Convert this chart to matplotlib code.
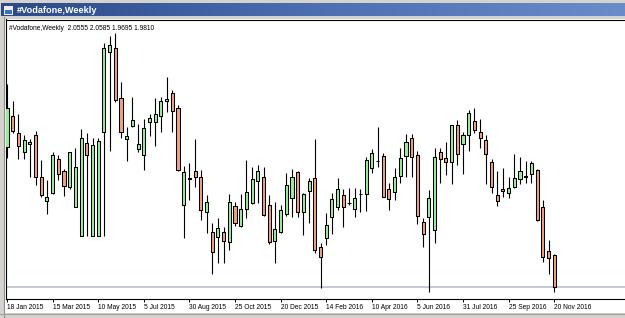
import numpy as np
import matplotlib
matplotlib.use("Agg")
import matplotlib.pyplot as plt
from matplotlib.patches import Rectangle
from matplotlib.collections import LineCollection, PatchCollection
import matplotlib.colors as mcolors

# ---------------- data (weekly candles, from 18 Jan 2015) ----------------
opens = [2.3085, 2.3828, 2.3414, 2.2982, 2.3156, 2.3375, 2.2395, 2.1824, 2.2004, 2.2811,
         2.2529, 2.2160, 2.1690, 2.1001, 2.3194, 2.1001, 2.1001, 2.3438, 2.5337, 2.5412,
         2.4251, 2.3273, 2.3586, 2.3053, 2.2905, 2.3687, 2.3673, 2.3821, 2.4181, 2.4369,
         2.4002, 2.1730, 2.2364, 2.2529, 2.2380, 2.1558, 2.1088, 2.0970, 2.1088, 2.0853,
         2.1706, 2.1243, 2.1628, 2.1769, 2.2294, 2.2380, 2.1730, 2.0884, 2.1102, 2.1518,
         2.1887, 2.2512, 2.1572, 2.2066, 2.2357, 2.0750, 2.0947, 2.1455, 2.1675, 2.1957,
         2.1784, 2.1636, 2.1988, 2.1988, 2.2592, 2.2764, 2.2881, 2.2106, 2.2028, 2.2418,
         2.2881, 2.3311, 2.2905, 2.1337, 2.1455, 2.1142, 2.2975, 2.2827, 2.2733, 2.3610,
         2.3156, 2.3375, 2.3711, 2.3452, 2.3257, 2.2747, 2.1965, 2.2098, 2.2004, 2.2160,
         2.2333, 2.2411, 2.2458, 2.2552, 2.1675, 2.0656, 2.0555]
highs = [2.4573, 2.4174, 2.3868, 2.3386, 2.3281, 2.3476, 2.2787, 2.2317, 2.2982, 2.2905,
         2.2576, 2.2982, 2.3062, 2.3516, 2.3429, 2.3316, 2.3311, 2.5529, 2.5701, 2.5764,
         2.4620, 2.3574, 2.4260, 2.3633, 2.3743, 2.3861, 2.4237, 2.4260, 2.4730, 2.4432,
         2.4080, 2.2646, 2.2724, 2.3281, 2.2552, 2.1965, 2.1314, 2.1417, 2.1220, 2.1981,
         2.1807, 2.1988, 2.2787, 2.2630, 2.2670, 2.2630, 2.1965, 2.1807, 2.1730, 2.2474,
         2.2568, 2.2536, 2.2019, 2.2371, 2.3281, 2.0829, 2.1534, 2.2004, 2.2357, 2.2098,
         2.2122, 2.2122, 2.2098, 2.2865, 2.3038, 2.3570, 2.2944, 2.2239, 2.2592, 2.3076,
         2.3391, 2.3391, 2.3006, 2.1431, 2.2082, 2.3062, 2.3062, 2.3222, 2.3610, 2.3739,
         2.3452, 2.3974, 2.4002, 2.3743, 2.3386, 2.2803, 2.2536, 2.2592, 2.2395, 2.2928,
         2.2865, 2.2764, 2.2771, 2.2568, 2.1847, 2.0907, 2.0585]
lows = [2.2827, 2.3429, 2.2803, 2.2803, 2.2388, 2.2200, 2.1918, 2.1525, 2.1988, 2.2317,
        2.1953, 2.2098, 2.1683, 2.1001, 2.1001, 2.1001, 2.1001, 2.1001, 2.2999, 2.4157,
        2.3311, 2.2775, 2.3574, 2.2982, 2.2552, 2.3358, 2.3123, 2.3438, 2.3922, 2.3452,
        2.2540, 2.0947, 2.1847, 2.2160, 2.1377, 2.1064, 2.0108, 2.0359, 2.0374, 2.0672,
        2.1236, 2.1205, 2.1431, 2.1753, 2.1769, 2.1471, 2.0813, 2.0359, 2.1079, 2.1471,
        2.1440, 2.1440, 2.1025, 2.1314, 2.0609, 1.9772, 2.0790, 2.1048, 2.1612, 2.1205,
        2.1730, 2.1440, 2.1572, 2.1589, 2.2474, 2.2630, 2.1918, 2.1612, 2.1847, 2.2239,
        2.2395, 2.2395, 2.1276, 2.0750, 1.9685, 2.0829, 2.2254, 2.2435, 2.2223, 2.2670,
        2.2458, 2.3010, 2.3422, 2.3076, 2.2223, 2.2019, 2.1706, 2.1925, 2.1887, 2.2141,
        2.2216, 2.2239, 2.2239, 2.1365, 2.0383, 2.0101, 1.9695]
closes = [2.4002, 2.3476, 2.3123, 2.3250, 2.3210, 2.2395, 2.1965, 2.1925, 2.2905, 2.2451,
          2.2183, 2.2968, 2.2615, 2.3297, 2.2905, 2.3140, 2.3234, 2.5426, 2.5490, 2.4197,
          2.3438, 2.3363, 2.3727, 2.3163, 2.3546, 2.3767, 2.3861, 2.4181, 2.4213, 2.3946,
          2.2552, 2.2498, 2.2352, 2.2380, 2.1612, 2.1793, 2.0618, 2.1182, 2.0891, 2.1793,
          2.1314, 2.1628, 2.2028, 2.2333, 2.2536, 2.1495, 2.0867, 2.1158, 2.1612, 2.2200,
          2.2380, 2.1572, 2.1981, 2.2294, 2.0672, 2.0515, 2.1252, 2.1863, 2.2098, 2.1690,
          2.1784, 2.1901, 2.1988, 2.2787, 2.2959, 2.2764, 2.1925, 2.1863, 2.2380, 2.2841,
          2.3217, 2.2865, 2.1478, 2.1041, 2.1901, 2.2865, 2.2803, 2.2733, 2.3610, 2.2921,
          2.3367, 2.3903, 2.3492, 2.3304, 2.2928, 2.2145, 2.1824, 2.2059, 2.2136, 2.2357,
          2.2536, 2.2380, 2.2709, 2.1377, 2.0500, 2.0477, 1.9810]

tick_idx = [0, 8, 16, 24, 32, 40, 48, 56, 64, 72, 80, 88, 96]
tick_labels = ["18 Jan 2015", "15 Mar 2015", "10 May 2015", "5 Jul 2015", "30 Aug 2015",
               "25 Oct 2015", "20 Dec 2015", "14 Feb 2016", "10 Apr 2016", "5 Jun 2016",
               "31 Jul 2016", "25 Sep 2016", "20 Nov 2016"]
title = "#Vodafone,Weekly"

# ---------------- figure ----------------
W, H = 625, 318
fig = plt.figure(figsize=(W / 100, H / 100), dpi=100)
fig.patch.set_facecolor("white")

# background / window frame axes in pixel coordinates
bg = fig.add_axes([0, 0, 1, 1])
bg.set_xlim(0, W)
bg.set_ylim(H, 0)
bg.axis("off")

bg.add_patch(Rectangle((0, 0), W, 19, color="#D6D3CE", lw=0))
bg.add_patch(Rectangle((0, 0), 5, H, color="#D6D3CE", lw=0))
bg.add_patch(Rectangle((0, 313), W, 5, color="#D6D3CE", lw=0))
bg.plot([3.5, 3.5], [17, H], color="#8E8E8E", lw=0.8)
bg.plot([0, W], [313.5, 313.5], color="#A0A0A0", lw=0.8)

# title bar gradient
grad = np.linspace(0, 1, 256).reshape(1, -1)
cmap = mcolors.LinearSegmentedColormap.from_list("tb", ["#2A4A8A", "#4C6EB2", "#6A8CCB"])
bg.imshow(grad, extent=(1, W, 16.5, 3.5), aspect="auto", cmap=cmap, zorder=1)
bg.add_patch(Rectangle((3, 5), 10, 10, facecolor="#E8EEF8", edgecolor="#1E3A78", lw=0.6, zorder=2))
bg.add_patch(Rectangle((4.5, 9.5), 7, 4, facecolor="#3A6FC0", lw=0, zorder=3))
bg.text(17, 10.3, title, color="white", fontsize=6.6, fontweight="bold",
        family="Liberation Sans", va="center", ha="left", zorder=3)

# ---------------- chart axes ----------------
px_per_bar = 5.7
x0_px = 7.0
left_px, right_px, top_px, bot_px = 5.5, 625, 19.5, 299
ax = fig.add_axes([left_px / W, 1 - bot_px / H, (right_px - left_px) / W, (bot_px - top_px) / H])
ax.set_facecolor("white")
ax.set_xlim((left_px - x0_px) / px_per_bar, (right_px - x0_px) / px_per_bar)
p_per_px = 0.00235
ax.set_ylim(closes[-1] - (bot_px - 286.7) * p_per_px, closes[-1] + (286.7 - top_px) * p_per_px)

n = len(opens)
x = np.arange(n)
o = np.array(opens); h = np.array(highs); l = np.array(lows); c = np.array(closes)

# wicks
segs = [[(xi, li), (xi, hi)] for xi, li, hi in zip(x, l, h)]
ax.add_collection(LineCollection(segs, colors="black", linewidths=0.8, zorder=2))

# bodies
bw = 0.56
rects, fcs = [], []
for xi, oi, ci in zip(x, o, c):
    lo = min(oi, ci)
    hgt = abs(ci - oi)
    rects.append(Rectangle((xi - bw / 2, lo), bw, hgt))
    fcs.append("#98F098" if ci > oi else ("#F4A07E" if ci < oi else "black"))
ax.add_collection(PatchCollection(rects, facecolors=fcs, edgecolors="black",
                                  linewidths=0.75, zorder=3))

# bid line
ax.axhline(closes[-1], color="#C2C8D4", lw=1.4, zorder=1)

# header
ax.text(0.006, 0.982, f"{title}  {opens[-1]:.4f} {highs[-1]:.4f} {lows[-1]:.4f} {closes[-1]:.4f}",
        transform=ax.transAxes, fontsize=4.8, family="Liberation Sans",
        va="top", ha="left", color="black")

# axes styling
ax.spines["right"].set_visible(False)
for s in ["top", "bottom", "left"]:
    ax.spines[s].set_linewidth(0.8)
    ax.spines[s].set_color("black")
ax.set_yticks([])
ax.set_xticks(tick_idx)
ax.set_xticklabels(tick_labels, fontsize=4.8, family="Liberation Sans", ha="left")
ax.tick_params(axis="x", direction="out", length=2.5, width=0.7, pad=1.2)

fig.savefig("out.png", dpi=100)
